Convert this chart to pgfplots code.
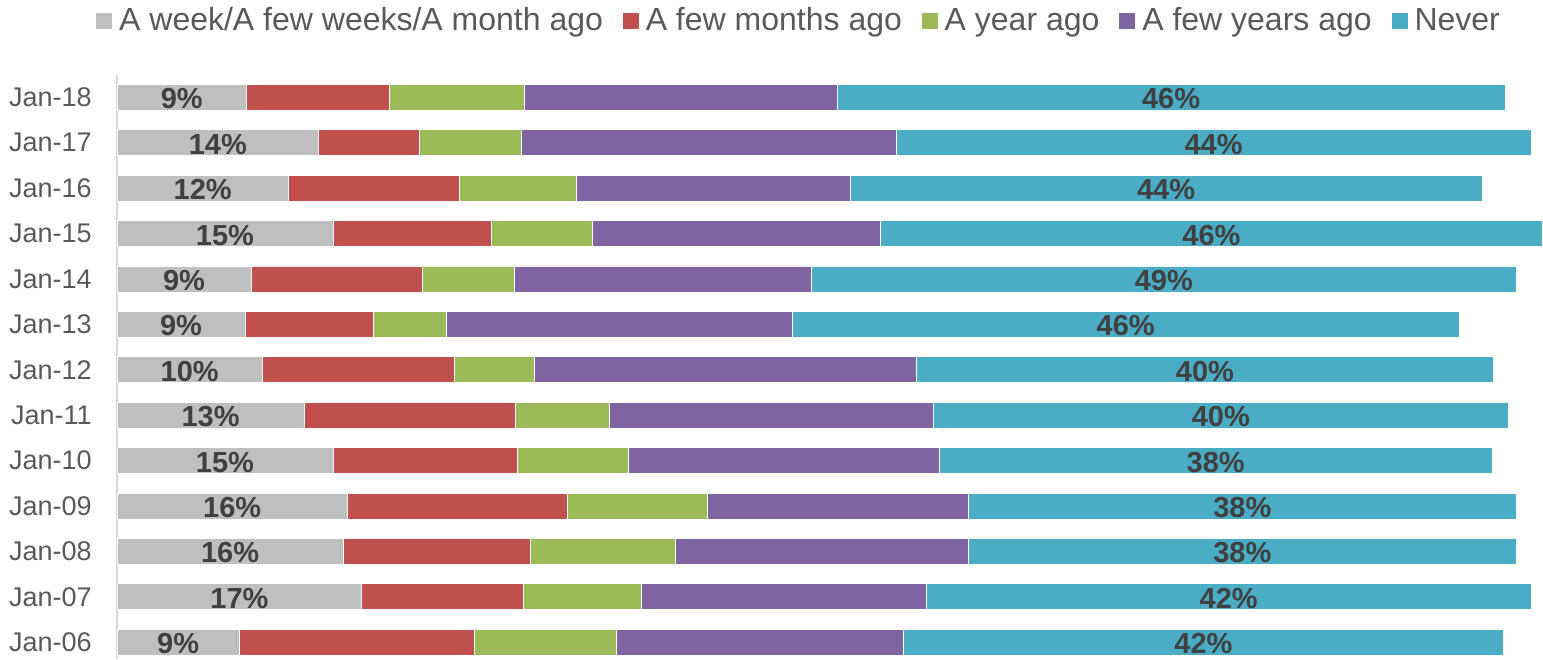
\documentclass[border=0pt]{standalone}
\usepackage{pgfplots}
\pgfplotsset{compat=1.18}
\usepackage{pgfplotstable}
\usepackage{fontspec}
\setmainfont{Liberation Sans}
\definecolor{cgray}{HTML}{BFBFBF}
\definecolor{cred}{HTML}{C0504D}
\definecolor{cgreen}{HTML}{9BBB59}
\definecolor{cpurple}{HTML}{8064A2}
\definecolor{cblue}{HTML}{4BACC6}
\definecolor{ctext}{HTML}{595959}
\definecolor{clab}{HTML}{404040}
\definecolor{caxis}{HTML}{D9D9D9}

\pgfplotstableread{
y gray red green purple blue glab blab
12 9.0 9.9 9.4 21.7 46.4 9 46
11 14.0 7.0 7.1 26.0 44.1 14 44
10 11.9 11.9 8.1 19.0 43.9 12 44
9 15.0 11.0 7.0 20.0 46.0 15 46
8 9.3 11.9 6.4 20.6 49.0 9 49
7 8.9 8.9 5.1 24.0 46.3 9 46
6 10.1 13.3 5.6 26.5 40.1 10 40
5 13.0 14.7 6.5 22.5 39.9 13 40
4 15.0 12.8 7.7 21.6 38.4 15 38
3 16.0 15.3 9.7 18.1 38.1 16 38
2 15.7 13.0 10.1 20.3 38.1 16 38
1 17.0 11.2 8.2 19.8 42.0 17 42
0 8.5 16.3 9.9 19.9 41.7 9 42
}\datatable

\pgfplotsset{
  sqlegend/.style={legend image code/.code={\fill[##1] (0pt,-4.25pt) rectangle (8.5pt,4.25pt);}},
  commonframe/.style={x=7.2pt, y=22.7pt, xmin=0, xmax=99.03, ymin=-0.37, ymax=12.5, clip=false},
}

\begin{document}
\begin{tikzpicture}
\begin{axis}[
  commonframe,
  xbar stacked,
  bar width=13pt,
  axis x line=none,
  axis y line*=left,
  y axis line style={draw=caxis, line width=0.75pt},
  ytick={0,...,12},
  yticklabels={Jan-06,Jan-07,Jan-08,Jan-09,Jan-10,Jan-11,Jan-12,Jan-13,Jan-14,Jan-15,Jan-16,Jan-17,Jan-18},
  ytick style={draw=none},
  major tick length=0pt,
  yticklabel style={font=\fontsize{13.5}{16}\selectfont, text=ctext, anchor=east, inner sep=0pt, xshift=-12.5pt},
  legend columns=5,
  legend style={at={(0,1)}, anchor=west, xshift=-11pt, yshift=27pt, draw=none, fill=none, inner sep=0pt,
    font=\fontsize{16}{19}\selectfont, text=ctext,
    /tikz/every even column/.append style={column sep=6.5pt},
    nodes={inner xsep=3pt, inner ysep=1pt}},
]
\addplot[sqlegend, fill=cgray, draw=white, line width=0.4pt] table[x=gray, y=y]{\datatable};
\addplot[sqlegend, fill=cred, draw=white, line width=0.4pt] table[x=red, y=y]{\datatable};
\addplot[sqlegend, fill=cgreen, draw=white, line width=0.4pt] table[x=green, y=y]{\datatable};
\addplot[sqlegend, fill=cpurple, draw=white, line width=0.4pt] table[x=purple, y=y]{\datatable};
\addplot[sqlegend, fill=cblue, draw=white, line width=0.4pt] table[x=blue, y=y]{\datatable};
\legend{A week/A few weeks/A month ago, A few months ago, A year ago, A few years ago, Never}
\coordinate (BL) at (rel axis cs:0,0);
\end{axis}
\begin{axis}[
  commonframe,
  hide axis,
  nodes near coords={\pgfplotspointmeta\%},
  point meta=explicit symbolic,
  every node near coord/.append style={font=\bfseries\fontsize{14.5}{17}\selectfont, text=clab, anchor=center, yshift=-0.75pt},
]
\addplot[only marks, mark=none] table[x expr=\thisrow{gray}/2, y=y, meta=glab]{\datatable};
\addplot[only marks, mark=none] table[x expr=\thisrow{gray}+\thisrow{red}+\thisrow{green}+\thisrow{purple}+\thisrow{blue}/2, y=y, meta=blab]{\datatable};
\end{axis}
\pgfresetboundingbox
\path ([shift={(-58.5pt,0pt)}]BL) rectangle ([shift={(713pt,329.5pt)}]BL);
\end{tikzpicture}
\end{document}
